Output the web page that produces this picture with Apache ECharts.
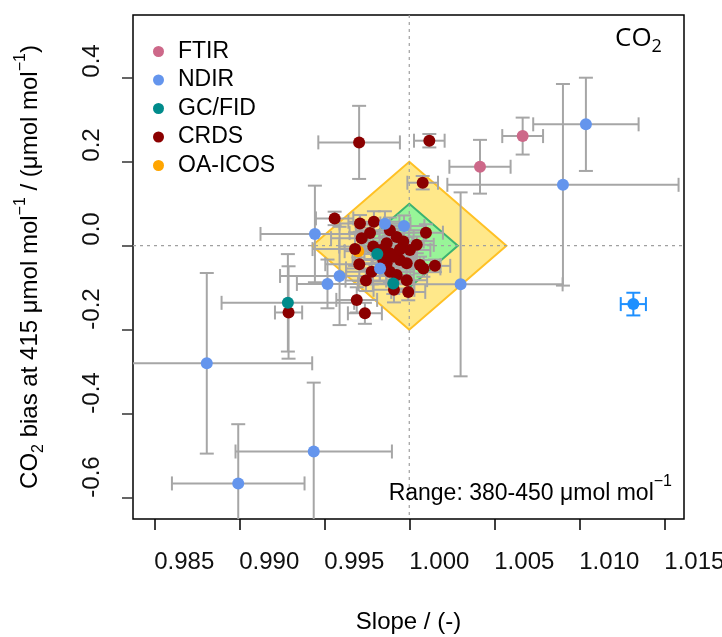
<!DOCTYPE html>
<html><head><meta charset="utf-8">
<script src="https://cdn.jsdelivr.net/npm/echarts@6/dist/echarts.min.js"></script>
<style>html,body{margin:0;padding:0;background:#fff}#c{width:722px;height:637px}</style>
</head><body><div id="c"></div>
<script>
// ---- axis ticks ----
const xTicks = [0.985, 0.990, 0.995, 1.000, 1.005, 1.010, 1.015];
const xTickLabels = ['0.985', '0.990', '0.995', '1.000', '1.005', '1.010', '1.015'];
const yTicks = [-0.6, -0.4, -0.2, 0.0, 0.2, 0.4];
const yTickLabels = ['-0.6', '-0.4', '-0.2', '0.0', '0.2', '0.4'];

// ---- compatibility diamonds (slope, bias) ----
const outerDiamondX = [1.0, 1.005714, 1.0, 0.994286];
const outerDiamondY = [0.2, 0.0, -0.2, 0.0];
const innerDiamondX = [1.0, 1.002857, 1.0, 0.997143];
const innerDiamondY = [0.1, 0.0, -0.1, 0.0];
const refSlope = [1.0];
const refBias = [0.0];

// ---- FTIR ----
const ftirSlope = [1.00416, 1.00667];
const ftirBias = [0.188, 0.261];
const ftirSlopeErr = [0.0018, 0.0012];
const ftirBiasErr = [0.064, 0.044];

// ---- NDIR ----
const ndirSlope = [0.98809, 0.99438, 0.98994, 0.99445, 0.99519, 0.99590, 0.99828, 0.99857, 0.99969, 1.00302, 1.00904, 1.01039];
const ndirBias = [-0.280, -0.490, -0.566, 0.028, -0.091, -0.072, -0.054, 0.052, 0.047, -0.092, 0.145, 0.289];
const ndirSlopeErr = [0.0062, 0.0046, 0.0039, 0.0032, 0.0018, 0.0035, 0.0020, 0.0015, 0.0012, 0.0060, 0.0068, 0.0031];
const ndirBiasErr = [0.215, 0.164, 0.141, 0.115, 0.058, 0.117, 0.030, 0.030, 0.025, 0.219, 0.240, 0.111];

// ---- GC/FID ----
const gcSlope = [0.99286, 0.99812, 0.99906];
const gcBias = [-0.136, -0.020, -0.090];
const gcSlopeErr = [0.0039, 0.0010, 0.0012];
const gcBiasErr = [0.116, 0.020, 0.025];

// ---- CRDS ----
const crdsSlope = [0.99705, 0.99561, 1.00118, 1.00079, 0.99290,
  0.99710, 0.99792, 1.00098, 0.99886, 0.99769, 0.99720, 0.99681, 0.99926, 0.99965, 0.99867,
  0.99788, 1.00044, 1.00004, 0.99886, 0.99847, 0.99945, 0.99906, 0.99985, 1.00063, 1.00083,
  1.00151, 0.99706, 0.99779, 0.99745, 0.99867, 0.99886, 0.99926, 0.99910, 0.99994, 0.99691,
  0.99739, 0.99985, 0.99832, 0.99945];
const crdsBias = [0.246, 0.065, 0.250, 0.150, -0.159,
  0.053, 0.057, 0.031, 0.037, 0.030, 0.018, -0.008, 0.021, 0.010, 0.006,
  -0.002, 0.002, -0.010, -0.018, -0.034, -0.034, -0.026, -0.042, -0.046, -0.054,
  -0.048, -0.044, -0.062, -0.083, -0.042, -0.062, -0.070, -0.105, -0.110, -0.129,
  -0.161, -0.082, -0.010, -0.009];
const crdsSlopeErr = [0.0024, 0.0011, 0.0009, 0.0009, 0.0008,
  0.0012, 0.0015, 0.0010, 0.0020, 0.0012, 0.0018, 0.0025, 0.0010, 0.0012, 0.0015,
  0.0020, 0.0010, 0.0012, 0.0015, 0.0018, 0.0010, 0.0012, 0.0010, 0.0012, 0.0010,
  0.0009, 0.0020, 0.0015, 0.0012, 0.0015, 0.0012, 0.0010, 0.0012, 0.0010, 0.0012,
  0.0010, 0.0012, 0.0015, 0.0010];
const crdsBiasErr = [0.087, 0.016, 0.016, 0.016, 0.110,
  0.020, 0.025, 0.020, 0.030, 0.020, 0.025, 0.040, 0.020, 0.020, 0.030,
  0.030, 0.020, 0.020, 0.025, 0.030, 0.020, 0.020, 0.020, 0.020, 0.020,
  0.015, 0.040, 0.030, 0.025, 0.025, 0.025, 0.020, 0.030, 0.020, 0.030,
  0.025, 0.020, 0.020, 0.020];

// ---- OA-ICOS ----
const icosSlope = [0.99700];
const icosBias = [-0.013];
const icosSlopeErr = [0.0008];
const icosBiasErr = [0.015];

// ---- typical uncertainty marker ----
const typSlope = [1.01318];
const typBias = [-0.139];
const typSlopeErr = [0.00074];
const typBiasErr = [0.027];

const COL = {FTIR: '#CD6889', NDIR: '#6495ED', GC: '#008B8B', CRDS: '#8B0000', ICOS: '#FFA500', TYP: '#1E90FF'};
const ERR_COL = '#A6A6A6';
const FONT = 'Liberation Sans, Arial, sans-serif';

function zip(a, b, c, d) { return a.map((v, i) => d ? [v, b[i], c[i], d[i]] : [v, b[i]]); }

function errSeries(name, xs, ys, xe, ye, color, z) {
  return {
    type: 'custom', name: name + '_err', z: z, clip: true, silent: true,
    data: zip(xs, ys, xe, ye),
    renderItem: function (params, api) {
      const x = api.value(0), y = api.value(1), dx = api.value(2), dy = api.value(3);
      const l = api.coord([x - dx, y]), r = api.coord([x + dx, y]);
      const t = api.coord([x, y + dy]), b = api.coord([x, y - dy]);
      const cap = 7;
      const st = {stroke: color, lineWidth: 2};
      const L = (x1, y1, x2, y2) => ({type: 'line', shape: {x1, y1, x2, y2}, style: st});
      return {type: 'group', children: [
        L(l[0], l[1], r[0], r[1]),
        L(l[0], l[1] - cap, l[0], l[1] + cap),
        L(r[0], r[1] - cap, r[0], r[1] + cap),
        L(t[0], t[1], b[0], b[1]),
        L(t[0] - cap, t[1], t[0] + cap, t[1]),
        L(b[0] - cap, b[1], b[0] + cap, b[1])
      ]};
    }
  };
}
function ptSeries(name, xs, ys, color, z) {
  return {type: 'scatter', name: name, z: z, symbol: 'circle', symbolSize: 12,
    itemStyle: {color: color, opacity: 1}, data: zip(xs, ys), silent: true};
}
function diamondSeries(xs, ys, fill, stroke, z) {
  return {type: 'custom', z: z, silent: true, clip: true, data: [[xs[0], ys[0]]],
    renderItem: function (params, api) {
      const pts = xs.map((x, i) => api.coord([x, ys[i]]));
      return {type: 'polygon', shape: {points: pts}, style: {fill: fill, stroke: stroke, lineWidth: 2}};
    }};
}

const chart = echarts.init(document.getElementById('c'), null, {renderer: 'canvas'});
const option = {
  animation: false,
  backgroundColor: '#ffffff',
  grid: {left: 133, right: 38, top: 15, bottom: 118, show: true, borderColor: '#000', borderWidth: 1.5,
    backgroundColor: 'transparent', containLabel: false, outerBoundsMode: 'none'},
  xAxis: {
    type: 'value', min: 0.98375, max: 1.01616, position: 'bottom',
    axisLine: {show: false, onZero: false}, splitLine: {show: false},
    axisTick: {show: true, length: 11, inside: false, customValues: xTicks, lineStyle: {color: '#000', width: 1.5}},
    axisLabel: {show: true, customValues: xTicks, align: 'left', verticalAlign: 'top', margin: 31,
      fontSize: 24, fontFamily: FONT, color: '#111',
      formatter: v => { let k = 0; xTicks.forEach((t, i) => { if (Math.abs(t - v) < Math.abs(xTicks[k] - v)) k = i; }); return xTickLabels[k]; }}
  },
  yAxis: {
    type: 'value', min: -0.6507, max: 0.5493, position: 'left',
    axisLine: {show: false, onZero: false}, splitLine: {show: false},
    axisTick: {show: true, length: 11, inside: false, customValues: yTicks, lineStyle: {color: '#333', width: 1.5}},
    axisLabel: {show: true, customValues: yTicks, rotate: 90, align: 'left', verticalAlign: 'bottom', margin: 29,
      fontSize: 24, fontFamily: FONT, color: '#111',
      formatter: v => { let k = 0; yTicks.forEach((t, i) => { if (Math.abs(t - v) < Math.abs(yTicks[k] - v)) k = i; }); return yTickLabels[k]; }}
  },
  legend: {
    data: ['FTIR', 'NDIR', 'GC/FID', 'CRDS', 'OA-ICOS'],
    orient: 'vertical', left: 148, top: 35, icon: 'circle', itemWidth: 11, itemHeight: 11, itemGap: 5.5,
    selectedMode: false,
    textStyle: {fontSize: 23, fontFamily: FONT, color: '#000', lineHeight: 23, padding: [0, 0, 0, 9]}
  },
  graphic: [
    {type: 'text', left: 615, top: 26, z: 50, style: {
      text: '{n|CO}{s|2}', rich: {
        n: {fontSize: 26, fontFamily: 'Open Sans, sans-serif', color: '#000', lineHeight: 34, verticalAlign: 'middle'},
        s: {fontSize: 18, fontFamily: 'Open Sans, sans-serif', color: '#000', lineHeight: 22, verticalAlign: 'bottom'}}}},
    {type: 'text', right: 50, top: 474, z: 50, style: {
      text: '{n|Range: 380-450 μmol mol}{s|−1}', rich: {
        n: {fontSize: 23, fontFamily: FONT, color: '#000', lineHeight: 31, verticalAlign: 'bottom'},
        s: {fontSize: 16, fontFamily: FONT, color: '#000', lineHeight: 16, verticalAlign: 'top'}}}},
    {type: 'text', x: 408.5, y: 622, z: 50, style: {
      text: 'Slope / (-)', fontSize: 24, fontFamily: FONT, fill: '#000', align: 'center', verticalAlign: 'middle'}},
    {type: 'text', x: 30, y: 267, rotation: Math.PI / 2, z: 50, style: {
      text: '{n|CO}{sub|2}{n| bias at 415 μmol mol}{sup|−1}{n| / (μmol mol}{sup|−1}{n|)}',
      align: 'center', verticalAlign: 'middle', rich: {
        n: {fontSize: 24, fontFamily: FONT, color: '#000', lineHeight: 34, verticalAlign: 'middle'},
        sub: {fontSize: 16, fontFamily: FONT, color: '#000', lineHeight: 16, verticalAlign: 'bottom'},
        sup: {fontSize: 16, fontFamily: FONT, color: '#000', lineHeight: 16, verticalAlign: 'top'}}}}
  ],
  series: [
    diamondSeries(outerDiamondX, outerDiamondY, '#FFE88A', '#FFC125', 1),
    diamondSeries(innerDiamondX, innerDiamondY, '#98F598', '#3CB371', 2),
    {type: 'custom', z: 3, silent: true, clip: true, data: zip(refSlope, refBias),
      renderItem: function (params, api) {
        const cs = params.coordSys;
        const p = api.coord([api.value(0), api.value(1)]);
        const st = {stroke: '#A0A0A0', lineWidth: 1.2, lineDash: [3, 4]};
        return {type: 'group', children: [
          {type: 'line', shape: {x1: p[0], y1: cs.y, x2: p[0], y2: cs.y + cs.height}, style: st},
          {type: 'line', shape: {x1: cs.x, y1: p[1], x2: cs.x + cs.width, y2: p[1]}, style: st}
        ]};
      }},
    errSeries('OA-ICOS', icosSlope, icosBias, icosSlopeErr, icosBiasErr, ERR_COL, 4),
    errSeries('CRDS', crdsSlope, crdsBias, crdsSlopeErr, crdsBiasErr, ERR_COL, 4),
    errSeries('GC/FID', gcSlope, gcBias, gcSlopeErr, gcBiasErr, ERR_COL, 4),
    errSeries('NDIR', ndirSlope, ndirBias, ndirSlopeErr, ndirBiasErr, ERR_COL, 4),
    errSeries('FTIR', ftirSlope, ftirBias, ftirSlopeErr, ftirBiasErr, ERR_COL, 4),
    errSeries('typ', typSlope, typBias, typSlopeErr, typBiasErr, COL.TYP, 4),
    ptSeries('OA-ICOS', icosSlope, icosBias, COL.ICOS, 5),
    ptSeries('CRDS', crdsSlope, crdsBias, COL.CRDS, 5),
    ptSeries('GC/FID', gcSlope, gcBias, COL.GC, 5),
    ptSeries('NDIR', ndirSlope, ndirBias, COL.NDIR, 5),
    ptSeries('FTIR', ftirSlope, ftirBias, COL.FTIR, 5),
    ptSeries('typ', typSlope, typBias, COL.TYP, 5)
  ]
};
chart.setOption(option);
</script>
</body></html>
